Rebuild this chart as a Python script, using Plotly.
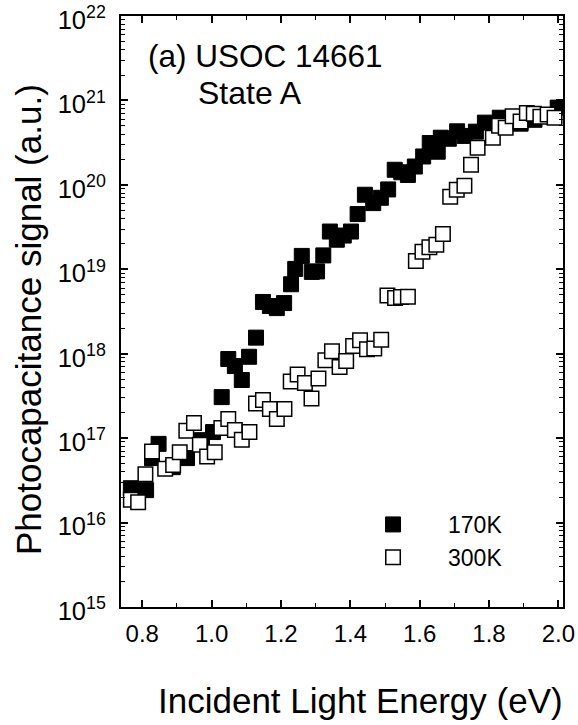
import plotly.graph_objects as go

# Photocapacitance spectra, USOC 14661, state A
energy_170K = [0.767, 0.811, 0.828, 0.847, 0.888, 0.929, 0.972, 1.004, 1.029, 1.048,
               1.067, 1.087, 1.108, 1.128, 1.148, 1.168, 1.188, 1.209, 1.229, 1.241,
               1.260, 1.289, 1.304, 1.322, 1.341, 1.361, 1.381, 1.402, 1.421, 1.442,
               1.466, 1.488, 1.509, 1.528, 1.547, 1.566, 1.586, 1.610, 1.629, 1.652,
               1.661, 1.684, 1.708, 1.730, 1.762, 1.788, 1.831, 1.891, 1.931, 1.998]
signal_170K = [2.55e16, 2.42e16, 5.8e16, 8.55e16, 4.53e16, 5.8e16, 9.46e16, 1.18e17, 3.06e17, 8.65e17,
               7.14e17, 4.88e17, 9.2e17, 1.55e18, 4.1e18, 3.67e18, 3.47e18, 3.98e18, 6.65e18, 1.01e19,
               1.44e19, 9.31e18, 9.44e18, 1.46e19, 2.8e19, 2.24e19, 2.51e19, 2.8e19, 4.51e19, 7.64e19,
               6.08e19, 7.03e19, 8.83e19, 1.51e20, 1.41e20, 1.31e20, 1.65e20, 2.17e20, 3.13e20, 2.47e20,
               3.62e20, 3.52e20, 4.31e20, 3.8e20, 4.27e20, 5.46e20, 6.25e20, 5.31e20, 5.9e20, 8.22e20]

energy_300K = [0.767, 0.788, 0.809, 0.828, 0.866, 0.889, 0.908, 0.927, 0.949, 0.966,
               0.987, 1.009, 1.028, 1.048, 1.067, 1.087, 1.109, 1.128, 1.148, 1.168,
               1.188, 1.210, 1.228, 1.248, 1.269, 1.288, 1.308, 1.328, 1.347, 1.369,
               1.388, 1.408, 1.428, 1.448, 1.469, 1.489, 1.507, 1.529, 1.546, 1.566,
               1.589, 1.608, 1.628, 1.648, 1.667, 1.688, 1.707, 1.729, 1.748, 1.767,
               1.811, 1.829, 1.848, 1.868, 1.891, 1.909, 1.929, 1.948, 1.969, 1.989]
signal_300K = [1.86e16, 1.74e16, 3.74e16, 6.95e16, 4.33e16, 4.79e16, 6.82e16, 1.22e17, 1.51e17, 8.34e16,
               6.07e16, 6.82e16, 1.32e17, 1.69e17, 1.25e17, 9.59e16, 1.18e17, 2.58e17, 2.82e17, 2.21e17,
               1.69e17, 2.21e17, 4.68e17, 5.66e17, 4.49e17, 2.94e17, 5.08e17, 8.36e17, 1.07e18, 6.95e17,
               8.18e17, 1.23e18, 1.44e18, 1.13e18, 1.15e18, 1.46e18, 4.88e18, 4.58e18, 4.71e18, 4.74e18,
               1.25e19, 1.61e19, 1.83e19, 1.95e19, 2.61e19, 7.23e19, 8.75e19, 9.75e19, 1.73e20, 2.75e20,
               3.62e20, 5.01e20, 4.74e20, 6.52e20, 5.65e20, 7.11e20, 6.97e20, 6.43e20, 6.84e20, 6.25e20]

x_ticks = [0.8, 1.0, 1.2, 1.4, 1.6, 1.8, 2.0]
x_ticklabels = ["0.8", "1.0", "1.2", "1.4", "1.6", "1.8", "2.0"]
y_exponents = [15, 16, 17, 18, 19, 20, 21, 22]

FONT = "Liberation Sans, Arial, sans-serif"

fig = go.Figure()
fig.add_trace(go.Scatter(
    x=energy_170K, y=signal_170K, mode="markers", name="170K",
    marker=dict(symbol="square", size=15, color="black",
                line=dict(color="black", width=1)),
))
fig.add_trace(go.Scatter(
    x=energy_300K, y=signal_300K, mode="markers", name="300K",
    marker=dict(symbol="square", size=14.5, color="white",
                line=dict(color="black", width=1.5)),
))

y_minor = [k * 10.0 ** e for e in y_exponents[:-1] for k in range(2, 10)]

axis_common = dict(
    showline=True, linecolor="black", linewidth=2, mirror="ticks",
    ticks="inside", ticklen=7, tickwidth=1.5, tickcolor="black",
    showgrid=False, zeroline=False, automargin=False,
)

fig.update_xaxes(
    range=[0.7386, 2.0133], tickmode="array", tickvals=x_ticks, ticktext=x_ticklabels,
    minor=dict(tickmode="array", tickvals=[0.9, 1.1, 1.3, 1.5, 1.7, 1.9],
               ticks="inside", ticklen=4, tickwidth=1, tickcolor="black"),
    ticklabelstandoff=4,
    tickfont=dict(family=FONT, size=24, color="black"),
    **axis_common,
)
fig.update_yaxes(
    type="log", range=[14.9995, 22.0005], tickmode="array",
    tickvals=[10.0 ** e for e in y_exponents],
    ticktext=[f"10<sup>{e}</sup>" for e in y_exponents],
    minor=dict(tickmode="array", tickvals=y_minor,
               ticks="inside", ticklen=4, tickwidth=1, tickcolor="black"),
    ticklabelstandoff=8, ticklabelshift=4,
    tickfont=dict(family=FONT, size=25.5, color="black"),
    **axis_common,
)

fig.update_layout(
    width=578, height=725,
    margin=dict(l=121, r=15, t=16, b=118),
    paper_bgcolor="white", plot_bgcolor="white",
    font=dict(family=FONT, color="black"),
    showlegend=True,
    legend=dict(x=0.491, y=0.176, xanchor="left", yanchor="top",
                bgcolor="rgba(0,0,0,0)", borderwidth=0,
                font=dict(family=FONT, size=23, color="black"),
                itemwidth=100, tracegroupgap=0),
    annotations=[
        dict(text="Photocapacitance signal (a.u.)", xref="paper", yref="paper",
             x=-0.2103, y=0.4856, xanchor="center", yanchor="middle", textangle=-90,
             showarrow=False, font=dict(family=FONT, size=35, color="black")),
        dict(text="Incident Light Energy (eV)", xref="paper", yref="paper",
             x=0.5426, y=-0.1574, xanchor="center", yanchor="middle",
             showarrow=False, font=dict(family=FONT, size=35, color="black")),
        dict(text="(a) USOC 14661", xref="paper", yref="paper",
             x=0.0565, y=(607 - 56) / 591, xanchor="left", yanchor="middle",
             showarrow=False, font=dict(family=FONT, size=31.5, color="black")),
        dict(text="State A", xref="paper", yref="paper",
             x=(196 - 121) / 442.3, y=(607 - 93.5) / 591, xanchor="left", yanchor="middle",
             showarrow=False, font=dict(family=FONT, size=32, color="black")),
    ],
)

fig.write_html("out.html")
